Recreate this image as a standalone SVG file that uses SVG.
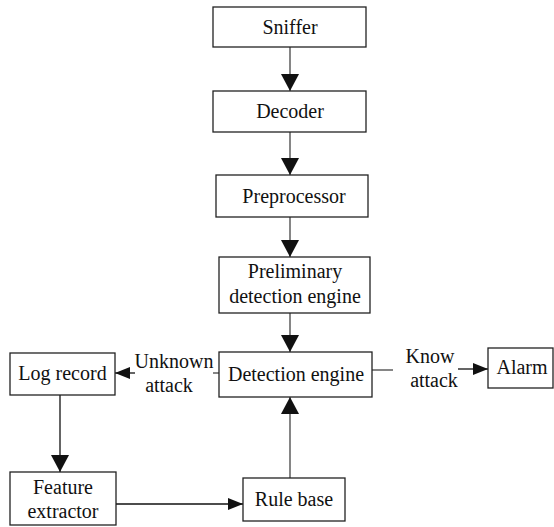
<svg xmlns="http://www.w3.org/2000/svg" width="554" height="527" viewBox="0 0 554 527">
<style>
.box{fill:#fff;stroke:#222;stroke-width:1.3}
.t{font-family:'Liberation Serif','Times New Roman','DejaVu Serif',serif;font-size:20px;fill:#111;text-anchor:middle}
.c{fill:none;stroke:#444;stroke-width:1.3}
.k{fill:none;stroke:#111;stroke-width:1.3}
</style>
<defs>
<marker id="av" markerUnits="userSpaceOnUse" markerWidth="18" markerHeight="19" refX="17" refY="9" orient="auto">
<path d="M0,0 L17,9 L0,18 z" fill="#111"/>
</marker>
<marker id="ah" markerUnits="userSpaceOnUse" markerWidth="15" markerHeight="12" refX="15" refY="6" orient="auto">
<path d="M0,0 L15,6 L0,12 z" fill="#111"/>
</marker>
</defs>
<rect width="554" height="527" fill="#fff"/>
<g id="connectors">
<line class="c" x1="290" y1="47" x2="290" y2="91" marker-end="url(#av)"/>
<line class="c" x1="290" y1="132" x2="290" y2="175" marker-end="url(#av)"/>
<line class="c" x1="290" y1="217" x2="290" y2="257" marker-end="url(#av)"/>
<line class="c" x1="290" y1="313" x2="290" y2="352" marker-end="url(#av)"/>
<line class="c" x1="290" y1="478" x2="290" y2="397" marker-end="url(#av)"/>
<line class="k" x1="60" y1="395" x2="60" y2="472" marker-end="url(#av)"/>
<line class="k" x1="116" y1="504" x2="243" y2="504" marker-end="url(#ah)"/>
<line class="c" x1="219" y1="373" x2="213" y2="373"/>
<line class="k" x1="135" y1="373" x2="115" y2="373" marker-end="url(#ah)"/>
<text class="t" x="174" y="368">Unknown</text>
<text class="t" x="169" y="392">attack</text>
<line class="c" x1="372" y1="370" x2="393" y2="370"/>
<line class="k" x1="458" y1="369" x2="488" y2="369" marker-end="url(#ah)"/>
<text class="t" x="430" y="363">Know</text>
<text class="t" x="434" y="387">attack</text>
</g>
<g id="sniffer"><rect class="box" x="213" y="7" width="153" height="40"/><text class="t" x="290" y="34">Sniffer</text></g>
<g id="decoder"><rect class="box" x="213" y="91" width="153" height="41"/><text class="t" x="290" y="118">Decoder</text></g>
<g id="preprocessor"><rect class="box" x="216" y="175" width="152" height="42"/><text class="t" x="294" y="203">Preprocessor</text></g>
<g id="preliminary"><rect class="box" x="219" y="257" width="151" height="56"/><text class="t" x="295" y="278">Preliminary</text><text class="t" x="295" y="303">detection engine</text></g>
<g id="detection"><rect class="box" x="219" y="352" width="153" height="45"/><text class="t" x="296" y="381">Detection engine</text></g>
<g id="alarm"><rect class="box" x="488" y="348" width="65" height="40"/><text class="t" x="522" y="374">Alarm</text></g>
<g id="logrecord"><rect class="box" x="10" y="353" width="105" height="42"/><text class="t" x="62.5" y="380">Log record</text></g>
<g id="feature"><rect class="box" x="10" y="472" width="106" height="53"/><text class="t" x="63" y="494">Feature</text><text class="t" x="63" y="518">extractor</text></g>
<g id="rulebase"><rect class="box" x="243" y="478" width="102" height="43"/><text class="t" x="294" y="506">Rule base</text></g>
</svg>
